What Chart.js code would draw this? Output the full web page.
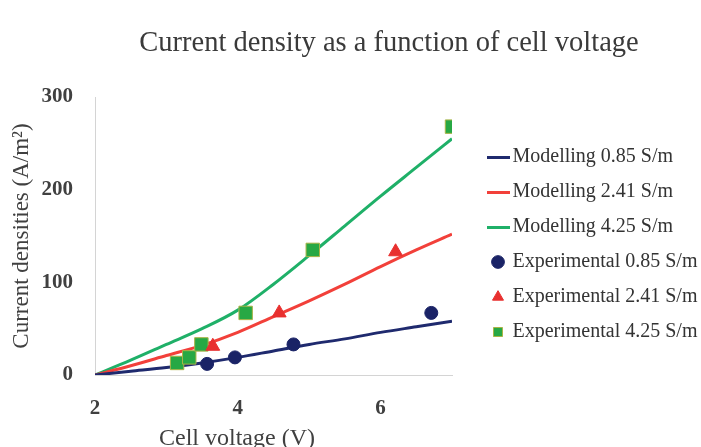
<!DOCTYPE html>
<html>
<head>
<meta charset="utf-8">
<script src="https://cdn.jsdelivr.net/npm/chart.js@4/dist/chart.umd.min.js"></script>
<style>
  html, body { margin: 0; padding: 0; background: #ffffff; }
  #wrap { position: relative; width: 701px; height: 447px; }
  #c { position: absolute; left: 0; top: 0; }
  .ttl { position: absolute; font-family: "Liberation Serif", "DejaVu Serif", serif; color: #3a3a3a; text-align: center; white-space: nowrap; }
  #mainTitle { left: 0; width: 778px; top: 26px; font-size: 28.5px; line-height: 32px; }
  #xTitle { left: 0; width: 474px; top: 424px; font-size: 24px; line-height: 26px; color: #404040; }
</style>
</head>
<body>
<div id="wrap">
  <canvas id="c" width="701" height="447"></canvas>
  <div class="ttl" id="mainTitle">Current density as a function of cell voltage</div>
  <div class="ttl" id="xTitle">Cell voltage (V)</div>
</div>
<script>
// ---- data ----
const seriesLabels = [
  "Modelling 0.85 S/m", "Modelling 2.41 S/m", "Modelling 4.25 S/m",
  "Experimental 0.85 S/m", "Experimental 2.41 S/m", "Experimental 4.25 S/m"
];
const modelVoltage = [2, 2.5, 3, 3.5, 4, 4.5, 5, 5.5, 6, 6.5, 7];
const model085 = [0, 4, 8, 13, 19, 26, 33, 39, 46, 52, 58];
const model241 = [0, 10, 21, 32, 46, 63, 80, 98, 117, 135, 152];
const model425 = [0, 16, 33, 50, 70, 98, 129, 161, 193, 224, 255];

const exp085Voltage = [3.57, 3.96, 4.78, 6.71];
const exp085Current = [12, 19, 33, 67];
const exp241Voltage = [3.65, 4.58, 6.21];
const exp241Current = [31, 67, 133];
const exp425Voltage = [3.15, 3.32, 3.49, 4.11, 5.05, 7.0];
const exp425Current = [13, 19, 33, 67, 135, 268];

const xTicks = [2, 4, 6];
const yTicks = [0, 100, 200, 300];
const yAxisTitle = "Current densities (A/m\u00B2)";

// ---- build ----
const pts = (xs, ys) => xs.map((x, i) => ({ x: x, y: ys[i] }));
const colBlue = "#1f2a6e", colRed = "#f2403a", colGreen = "#1fb068";

function lineGlyph(color) {
  const cv = document.createElement("canvas");
  cv.width = 23; cv.height = 3;
  const g = cv.getContext("2d");
  g.fillStyle = color; g.fillRect(0, 0, 23, 3);
  return cv;
}

const modelDs = (label, ys, color) => ({
  label: label, data: pts(modelVoltage, ys), showLine: true,
  borderColor: color, backgroundColor: color, borderWidth: 3,
  pointRadius: 0, pointHoverRadius: 0, cubicInterpolationMode: "monotone",
  pointStyle: "line", order: 2
});
const expDs = (label, xs, ys, color, style, r, border) => ({
  label: label, data: pts(xs, ys), showLine: false,
  backgroundColor: color, borderColor: border || color, borderWidth: 1,
  pointStyle: style, pointRadius: r, pointHoverRadius: r, order: 1
});

const datasets = [
  modelDs(seriesLabels[0], model085, colBlue),
  modelDs(seriesLabels[1], model241, colRed),
  modelDs(seriesLabels[2], model425, colGreen),
  expDs(seriesLabels[3], exp085Voltage, exp085Current, "#1a2366", "circle", 6.5),
  expDs(seriesLabels[4], exp241Voltage, exp241Current, "#e8302f", "triangle", 8),
  expDs(seriesLabels[5], exp425Voltage, exp425Current, "#27a844", "rect", 9.5, "#a9b447")
];

const serif = "'Liberation Serif', 'DejaVu Serif', serif";
const LEGEND_W = 249;

const layoutPlugin = {
  id: "layoutTweak",
  beforeLayout(chart) {
    const lg = chart.legend;
    if (lg && !lg._patched) {
      const f = lg.fit;
      lg.fit = function () { f.call(this); this.width = LEGEND_W; };
      lg._patched = true;
    }
  },
  afterLayout(chart) {
    const lg = chart.legend;
    if (!lg) return;
    lg.left = 478.5; lg.right = 701 + 40;
    lg.top = 132; lg.bottom = 447;
  }
};

new Chart(document.getElementById("c"), {
  type: "scatter",
  data: { datasets: datasets },
  plugins: [layoutPlugin],
  options: {
    responsive: false,
    animation: false,
    events: [],
    layout: { padding: { top: 97, right: 0, bottom: 0, left: 0 } },
    plugins: {
      title: { display: false },
      tooltip: { enabled: false },
      legend: {
        display: true,
        position: "right",
        align: "start",
        labels: {
          usePointStyle: true,
          boxWidth: 9,
          boxHeight: 9,
          padding: 15,
          color: "#333333",
          font: { family: serif, size: 20 },
          sort: (a, b) => a.datasetIndex - b.datasetIndex,
          generateLabels(chart) {
            const items = Chart.defaults.plugins.legend.labels.generateLabels(chart);
            items.forEach(it => {
              const ds = chart.data.datasets[it.datasetIndex];
              if (ds.showLine) {
                it.pointStyle = lineGlyph(ds.borderColor);
              }
            });
            return items;
          }
        }
      }
    },
    scales: {
      x: {
        type: "linear",
        min: 2, max: 7,
        afterFit: (s) => { s.height = 72; },
        afterBuildTicks: (s) => { s.ticks = xTicks.map(v => ({ value: v })); },
        grid: { display: false, drawTicks: false },
        border: { display: true, color: "#d4d4d4", width: 1 },
        ticks: { padding: 21, color: "#404040", font: { family: serif, size: 21, weight: "bold" } },
        title: { display: false }
      },
      y: {
        type: "linear",
        min: 0, max: 300,
        afterFit: (s) => { s.width = 95; },
        afterBuildTicks: (s) => { s.ticks = yTicks.map(v => ({ value: v })); },
        grid: { display: false, drawTicks: false },
        border: { display: true, color: "#d4d4d4", width: 1 },
        ticks: { padding: 22, color: "#404040", font: { family: serif, size: 21, weight: "bold" } },
        title: {
          display: true, text: yAxisTitle, color: "#404040",
          font: { family: serif, size: 23 }, padding: { top: 8, bottom: 0 }
        }
      }
    }
  }
});
</script>
</body>
</html>
